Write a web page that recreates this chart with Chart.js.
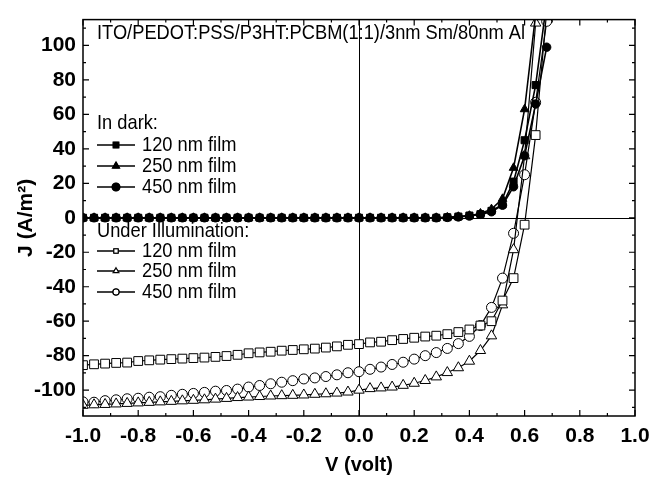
<!DOCTYPE html>
<html>
<head>
<meta charset="utf-8">
<script src="https://cdn.jsdelivr.net/npm/chart.js@4.4.0/dist/chart.umd.min.js"></script>
<style>
  html, body { margin: 0; padding: 0; background: #fff; }
</style>
</head>
<body>
<canvas id="jvChart" width="663" height="479"></canvas>
<script>
// bias voltage (V), same sweep for every curve
const voltage = [-1.00, -0.96, -0.92, -0.88, -0.84, -0.80, -0.76, -0.72, -0.68, -0.64, -0.60, -0.56, -0.52,
    -0.48, -0.44, -0.40, -0.36, -0.32, -0.28, -0.24, -0.20, -0.16, -0.12, -0.08, -0.04,
    0.00, 0.04, 0.08, 0.12, 0.16, 0.20, 0.24, 0.28, 0.32, 0.36, 0.40, 0.44, 0.48, 0.52, 0.56, 0.60, 0.64, 0.68];

// current density J (A/m^2) in the dark
const dark120 = [0, 0, 0, 0, 0, 0, 0, 0, 0, 0, 0, 0, 0,
    0, 0, 0, 0, 0, 0, 0, 0, 0, 0, 0, 0,
    0, 0, 0, 0, 0, 0, 0, 0, 0.3, 0.7, 1.3, 2.1, 4.0, 7.7, 21, 45, 77, 125];
const dark250 = [0, 0, 0, 0, 0, 0, 0, 0, 0, 0, 0, 0, 0,
    0, 0, 0, 0, 0, 0, 0, 0, 0, 0, 0, 0,
    0, 0, 0, 0, 0, 0, 0, 0, 0.2, 0.6, 1.2, 2.5, 5.0, 11, 29, 63, 118, null];
const dark450 = [0, 0, 0, 0, 0, 0, 0, 0, 0, 0, 0, 0, 0,
    0, 0, 0, 0, 0, 0, 0, 0, 0, 0, 0, 0,
    0, 0, 0, 0, 0, 0, 0, 0, 0.2, 0.5, 1.0, 2.0, 3.5, 7.3, 18, 36, 66, 99];

// current density J (A/m^2) under illumination
const illum120 = [-85.5, -85.0, -84.6, -84.2, -84.0, -83.1, -82.7, -82.3, -82.0, -81.7, -81.4, -81.1, -80.7,
    -80.2, -79.5, -78.6, -78.1, -77.7, -77.1, -76.7, -76.3, -75.9, -75.3, -74.6, -73.7,
    -73.3, -72.3, -71.9, -71.0, -70.3, -69.6, -68.9, -68.4, -67.5, -66.3, -64.8, -62.5, -60.0, -48.0, -35.0, -4.0, 48.0, 120.0];
const illum250 = [-108.8, -108.5, -108.3, -108.0, -107.7, -107.4, -107.1, -106.8, -106.5, -106.2, -105.9, -105.6, -105.2,
    -104.8, -104.3, -104.0, -103.7, -103.4, -103.2, -103.0, -102.8, -102.4, -102.1, -101.7, -101.1,
    -100.0, -99.1, -98.7, -98.2, -97.2, -96.0, -94.4, -92.3, -89.8, -87.0, -83.2, -77.0, -68.5, -50.5, -18.5, 36.0, 113.0, null];
const illum450 = [-106.8, -107.0, -106.1, -105.6, -105.0, -104.7, -104.1, -103.8, -103.0, -102.4, -101.9, -101.3, -100.6,
    -100.2, -99.4, -98.2, -97.3, -96.3, -95.4, -94.5, -93.5, -92.9, -92.1, -91.1, -89.9,
    -89.3, -87.9, -86.6, -85.1, -83.8, -82.0, -80.0, -78.2, -75.8, -73.0, -68.8, -62.5, -52.0, -35.0, -9.0, 25.0, 67.0, 114.0];

// axis ticks
const xMajor = [-1.0, -0.8, -0.6, -0.4, -0.2, 0.0, 0.2, 0.4, 0.6, 0.8, 1.0];
const xMinor = [-0.9, -0.7, -0.5, -0.3, -0.1, 0.1, 0.3, 0.5, 0.7, 0.9];
const yMajor = [-100, -80, -60, -40, -20, 0, 20, 40, 60, 80, 100];
const yMinor = [-110, -90, -70, -50, -30, -10, 10, 30, 50, 70, 90, 110];

const stackText = 'ITO/PEDOT:PSS/P3HT:PCBM(1:1)/3nm Sm/80nm Al';
const filmLabels = ['120 nm film', '250 nm film', '450 nm film'];

function toPoints(arr) {
    return voltage.map((v, i) => ({ x: v, y: arr[i] }));
}

function curve(arr, style, radius, filled) {
    return {
        data: toPoints(arr),
        showLine: true,
        borderColor: '#000',
        borderWidth: filled ? 1.6 : 1.2,
        pointStyle: style,
        pointRadius: radius,
        pointHoverRadius: radius,
        pointBorderWidth: 1,
        pointBorderColor: '#000',
        pointBackgroundColor: filled ? '#000' : '#fff',
        spanGaps: false
    };
}

const datasets = [
    curve(dark120, 'rect', 5, true),
    curve(dark250, 'triangle', 5, true),
    curve(dark450, 'circle', 4.2, true),
    curve(illum120, 'rect', 6.2, false),
    curve(illum250, 'triangle', 6, false),
    curve(illum450, 'circle', 5, false)
];

function condensedText(ctx, text, x, y) {
    ctx.save();
    ctx.translate(x, y);
    ctx.scale(0.87, 1);
    ctx.fillText(text, 0, 0);
    ctx.restore();
}

const axesFrame = {
    id: 'axesFrame',
    beforeDatasetsDraw(chart) {
        const { ctx, chartArea: a, scales: { x, y } } = chart;
        const x0 = Math.round(x.getPixelForValue(0)) + 0.5;
        const y0 = Math.round(y.getPixelForValue(0)) + 0.5;
        ctx.save();
        ctx.strokeStyle = '#000';
        ctx.lineWidth = 1;
        ctx.beginPath();
        ctx.moveTo(x0, a.top);
        ctx.lineTo(x0, a.bottom);
        ctx.moveTo(a.left, y0);
        ctx.lineTo(a.right, y0);
        ctx.stroke();
        ctx.restore();
    },
    afterDraw(chart) {
        const { ctx, chartArea: a, scales: { x, y } } = chart;
        ctx.save();
        ctx.strokeStyle = '#000';
        ctx.lineWidth = 1.5;
        ctx.strokeRect(a.left, a.top, a.right - a.left, a.bottom - a.top);

        ctx.lineWidth = 1.2;
        ctx.beginPath();
        const xt = (vals, len) => vals.forEach(v => {
            const px = x.getPixelForValue(v);
            ctx.moveTo(px, a.bottom); ctx.lineTo(px, a.bottom - len);
            ctx.moveTo(px, a.top); ctx.lineTo(px, a.top + len);
        });
        const yt = (vals, len) => vals.forEach(v => {
            const py = y.getPixelForValue(v);
            ctx.moveTo(a.left, py); ctx.lineTo(a.left + len, py);
            ctx.moveTo(a.right, py); ctx.lineTo(a.right - len, py);
        });
        xt(xMajor, 6); xt(xMinor, 3);
        yt(yMajor, 6); yt(yMinor, 3);
        ctx.stroke();

        // legend block inside the plot
        ctx.fillStyle = '#000';
        ctx.font = '21px "Liberation Sans", Arial, sans-serif';
        ctx.textBaseline = 'middle';
        ctx.textAlign = 'left';
        condensedText(ctx, stackText, 97, 33);
        condensedText(ctx, 'In dark:', 97, 123);
        condensedText(ctx, 'Under Illumination:', 97, 231);

        const rows = [
            { y: 145, ds: datasets[0] }, { y: 166, ds: datasets[1] }, { y: 187, ds: datasets[2] },
            { y: 251, ds: datasets[3] }, { y: 271, ds: datasets[4] }, { y: 292, ds: datasets[5] }
        ];
        rows.forEach((r, i) => {
            ctx.lineWidth = 1.5;
            ctx.strokeStyle = '#000';
            ctx.beginPath();
            ctx.moveTo(97, r.y);
            ctx.lineTo(135, r.y);
            ctx.stroke();
            Chart.helpers.drawPoint(ctx, {
                pointStyle: r.ds.pointStyle,
                radius: i < 3 ? 3.8 : 3,
                borderWidth: 1,
                rotation: 0
            }, 116, r.y);
            ctx.fillStyle = r.ds.pointBackgroundColor;
            ctx.strokeStyle = '#000';
            ctx.lineWidth = 1;
            ctx.fill();
            ctx.stroke();
            ctx.fillStyle = '#000';
            condensedText(ctx, filmLabels[i % 3], 142, r.y);
        });
        ctx.restore();
    }
};

const ctx = document.getElementById('jvChart').getContext('2d');

new Chart(ctx, {
    type: 'scatter',
    data: { datasets },
    options: {
        responsive: false,
        devicePixelRatio: 1,
        animation: false,
        events: [],
        layout: { padding: { left: 0, top: 12, right: 28, bottom: 0 } },
        plugins: {
            legend: { display: false },
            tooltip: { enabled: false }
        },
        scales: {
            x: {
                type: 'linear',
                min: -1,
                max: 1,
                afterBuildTicks: scale => { scale.ticks = xMajor.map(v => ({ value: v })); },
                afterFit: scale => { scale.height = 63; },
                grid: { display: false, drawTicks: false },
                border: { display: false },
                ticks: {
                    color: '#000',
                    padding: 8,
                    font: { family: '"Liberation Sans", Arial, sans-serif', size: 21, weight: 'bold' },
                    callback: v => v.toFixed(1)
                },
                title: {
                    display: true,
                    text: 'V (volt)',
                    color: '#000',
                    padding: { top: 0, bottom: 2 },
                    font: { family: '"Liberation Sans", Arial, sans-serif', size: 20, weight: 'bold' }
                }
            },
            y: {
                type: 'linear',
                min: -115,
                max: 115,
                afterBuildTicks: scale => { scale.ticks = yMajor.map(v => ({ value: v })); },
                afterFit: scale => { scale.width = 83; },
                grid: { display: false, drawTicks: false },
                border: { display: false },
                ticks: {
                    color: '#000',
                    padding: 7,
                    font: { family: '"Liberation Sans", Arial, sans-serif', size: 21, weight: 'bold' },
                    callback: v => String(v)
                },
                title: {
                    display: true,
                    text: 'J (A/m\u00B2)',
                    color: '#000',
                    padding: { top: 14, bottom: 0 },
                    font: { family: '"Liberation Sans", Arial, sans-serif', size: 21, weight: 'bold' }
                }
            }
        }
    },
    plugins: [axesFrame]
});
</script>
</body>
</html>
